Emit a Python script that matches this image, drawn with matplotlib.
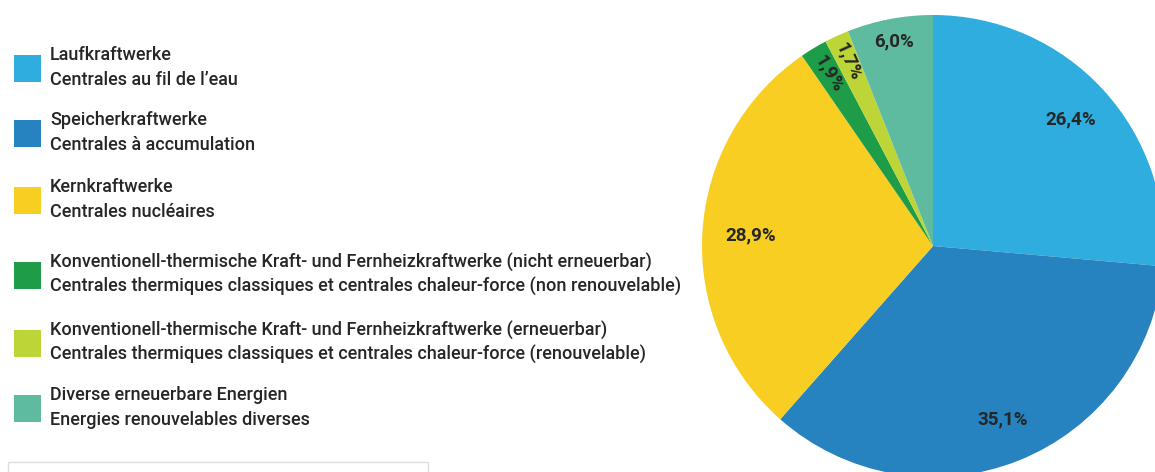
import numpy as np
import matplotlib.pyplot as plt
from matplotlib.patches import Rectangle

# ============================
# Data
# ============================
shares = [26.4, 35.1, 28.9, 1.9, 1.7, 6.0]
colors = ["#2FADDE", "#2783BF", "#F8CE22", "#1E9C48", "#BED538", "#5FBBA0"]
labels_de = [
    "Laufkraftwerke",
    "Speicherkraftwerke",
    "Kernkraftwerke",
    "Konventionell-thermische Kraft- und Fernheizkraftwerke (nicht erneuerbar)",
    "Konventionell-thermische Kraft- und Fernheizkraftwerke (erneuerbar)",
    "Diverse erneuerbare Energien",
]
labels_fr = [
    "Centrales au fil de l\u2019eau",
    "Centrales \u00e0 accumulation",
    "Centrales nucl\u00e9aires",
    "Centrales thermiques classiques et centrales chaleur-force (non renouvelable)",
    "Centrales thermiques classiques et centrales chaleur-force (renouvelable)",
    "Energies renouvelables diverses",
]

# label distance from centre (fraction of radius), rotated labels for thin slices
label_r = [0.81, 0.81, 0.79, 0.87, 0.88, 0.90]
rotated = [False, False, False, True, True, False]

FONT = ["Roboto", "DejaVu Sans"]
TXT = "#262626"
W, H = 1155, 472

fig = plt.figure(figsize=(W / 100, H / 100), dpi=100)
fig.patch.set_facecolor("white")

# ============================
# Pie (centre at 933,246 px from top-left, radius 231 px)
# ============================
cx, cy, R = 933, 246, 231
ax = fig.add_axes([(cx - R) / W, (H - cy - R) / H, 2 * R / W, 2 * R / H])
wedges, _ = ax.pie(shares, colors=colors, startangle=90, counterclock=False,
                   radius=1.0, wedgeprops=dict(linewidth=0))
ax.set_xlim(-1, 1)
ax.set_ylim(-1, 1)
ax.set_aspect("equal")
ax.axis("off")

for w, val, r, rot in zip(wedges, shares, label_r, rotated):
    mid = np.deg2rad((w.theta1 + w.theta2) / 2)
    x, y = r * np.cos(mid), r * np.sin(mid)
    angle = np.rad2deg(mid) - 180 if rot else 0
    ax.text(x, y, f"{val:.1f}%".replace(".", ","), ha="center", va="center",
            rotation=angle, rotation_mode="anchor", fontsize=13.5,
            fontweight="bold", color=TXT, family=FONT)

# ============================
# Legend (hand drawn)
# ============================
rows_y = [55, 120, 187, 262, 330, 395]
for y, c, de, fr in zip(rows_y, colors, labels_de, labels_fr):
    fig.patches.append(Rectangle((14 / W, 1 - (y + 27) / H), 27 / W, 27 / H,
                                 transform=fig.transFigure, facecolor=c,
                                 edgecolor="none"))
    fig.text(50 / W, 1 - y / H, de, ha="left", va="center", fontsize=13,
             fontweight="medium", color=TXT, family=FONT)
    fig.text(50 / W, 1 - (y + 25) / H, fr, ha="left", va="center", fontsize=13,
             fontweight="medium", color=TXT, family=FONT)

# faint frame at the bottom left
fig.patches.append(Rectangle((8 / W, -10 / H), 420 / W, 20 / H,
                             transform=fig.transFigure, facecolor="none",
                             edgecolor="#dddddd", linewidth=1))

fig.savefig("out.png", dpi=100)
